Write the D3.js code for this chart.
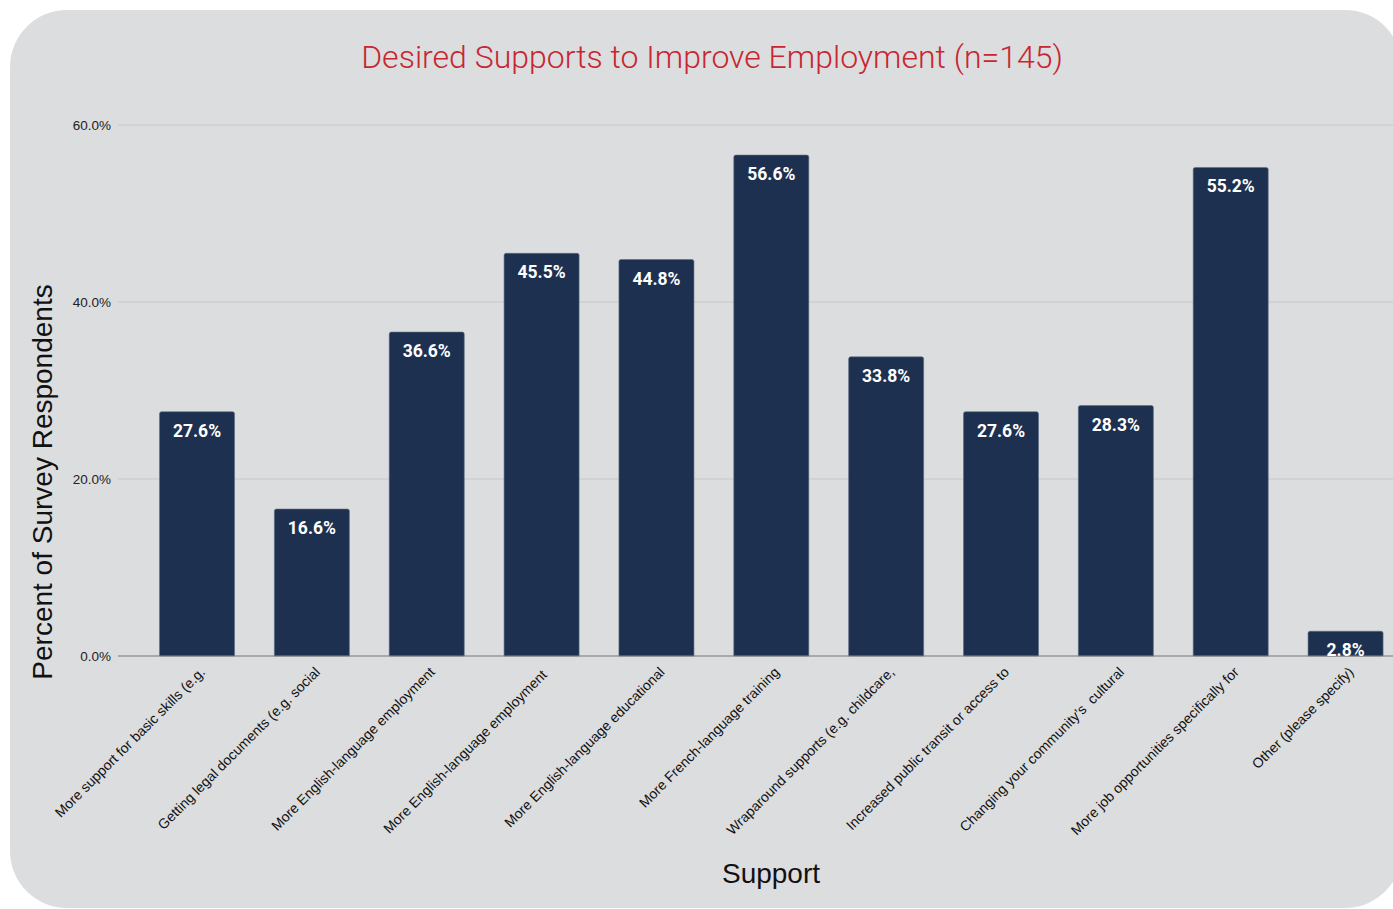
<!DOCTYPE html>
<html>
<head>
<meta charset="utf-8">
<script src="https://cdn.jsdelivr.net/npm/d3@7"></script>
<style>
  body { margin: 0; background: #fff; }
  svg { display: block; }
</style>
</head>
<body>
<div id="chart"></div>
<script>
// data
var categories = [
  'More support for basic skills (e.g.',
  'Getting legal documents (e.g. social',
  'More English-language employment',
  'More English-language employment ',
  'More English-language educational',
  'More French-language training',
  'Wraparound supports (e.g. childcare,',
  'Increased public transit or access to',
  'Changing your community\u2019s  cultural',
  'More job opportunities specifically for',
  'Other (please specify)'
];
var values = [27.6, 16.6, 36.6, 45.5, 44.8, 56.6, 33.8, 27.6, 28.3, 55.2, 2.8];
var yTicks = [0, 20, 40, 60];

var width = 1393, height = 909;

var svg = d3.select('#chart').append('svg')
  .attr('width', width)
  .attr('height', height);

// rounded grey panel
svg.append('rect')
  .attr('x', 10).attr('y', 10)
  .attr('width', 1392).attr('height', 898)
  .attr('rx', 57).attr('ry', 57)
  .style('fill', '#dcdddf');

var y = d3.scaleLinear().domain([0, 60]).range([656, 125]);

var x = d3.scaleBand()
  .domain(d3.range(categories.length))
  .range([139.6, 1403])
  .paddingInner(0.347)
  .paddingOuter(0.1735);

// gridlines
svg.selectAll('.grid')
  .data(yTicks.filter(function (d) { return d > 0; }))
  .enter()
  .append('line')
  .attr('x1', 118).attr('x2', width)
  .attr('y1', function (d) { return y(d); })
  .attr('y2', function (d) { return y(d); })
  .style('stroke', '#c6c7ca')
  .style('stroke-width', 1);

// y tick labels
svg.selectAll('.ytick')
  .data(yTicks)
  .enter()
  .append('text')
  .attr('x', 111)
  .attr('y', function (d) { return y(d); })
  .attr('dy', '0.35em')
  .attr('text-anchor', 'end')
  .style('font-family', 'Liberation Sans, Arial, sans-serif')
  .style('font-size', '13.5px')
  .style('fill', '#222')
  .text(function (d) { return d.toFixed(1) + '%'; });

// bars (small rounded top)
var r = 2;
svg.selectAll('.bar')
  .data(values)
  .enter()
  .append('path')
  .attr('d', function (d, i) {
    var x0 = x(i), w = x.bandwidth(), y0 = y(d), yb = y(0);
    return 'M' + x0 + ',' + yb +
      'V' + (y0 + r) +
      'Q' + x0 + ',' + y0 + ' ' + (x0 + r) + ',' + y0 +
      'H' + (x0 + w - r) +
      'Q' + (x0 + w) + ',' + y0 + ' ' + (x0 + w) + ',' + (y0 + r) +
      'V' + yb + 'Z';
  })
  .style('fill', '#1d3050')
  .style('stroke', '#5b6b82')
  .style('stroke-width', 0.6);

// zero axis line
svg.append('line')
  .attr('x1', 118).attr('x2', width)
  .attr('y1', y(0)).attr('y2', y(0))
  .style('stroke', '#777')
  .style('stroke-width', 1.2);

// value labels inside bars
svg.selectAll('.vlabel')
  .data(values)
  .enter()
  .append('text')
  .attr('x', function (d, i) { return x(i) + x.bandwidth() / 2; })
  .attr('y', function (d) { return y(d) + 25; })
  .attr('text-anchor', 'middle')
  .style('font-family', 'Roboto, sans-serif')
  .style('font-weight', 'bold')
  .style('font-size', '17.5px')
  .style('fill', '#fff')
  .text(function (d) { return d.toFixed(1) + '%'; });

// category labels, rotated
svg.selectAll('.xlabel')
  .data(categories)
  .enter()
  .append('text')
  .attr('transform', function (d, i) {
    var cx = x(i) + x.bandwidth() / 2 + 9;
    return 'translate(' + cx + ',' + 673 + ') rotate(-45)';
  })
  .attr('text-anchor', 'end')
  .style('font-family', 'Liberation Sans, Arial, sans-serif')
  .style('font-size', '14px')
  .style('fill', '#111')
  .style('white-space', 'pre')
  .text(function (d) { return d; });

// title
svg.append('text')
  .attr('x', 712).attr('y', 68)
  .attr('text-anchor', 'middle')
  .style('font-family', 'Roboto, sans-serif')
  .style('font-weight', 300)
  .style('font-size', '32px')
  .style('fill', '#c8262f')
  .text('Desired Supports to Improve Employment (n=145)');

// axis titles
svg.append('text')
  .attr('transform', 'translate(52,482) rotate(-90)')
  .attr('text-anchor', 'middle')
  .style('font-family', 'Liberation Sans, Arial, sans-serif')
  .style('font-size', '28px')
  .style('fill', '#111')
  .text('Percent of Survey Respondents');

svg.append('text')
  .attr('x', 771).attr('y', 883)
  .attr('text-anchor', 'middle')
  .style('font-family', 'Liberation Sans, Arial, sans-serif')
  .style('font-size', '28px')
  .style('fill', '#111')
  .text('Support');
</script>
</body>
</html>
